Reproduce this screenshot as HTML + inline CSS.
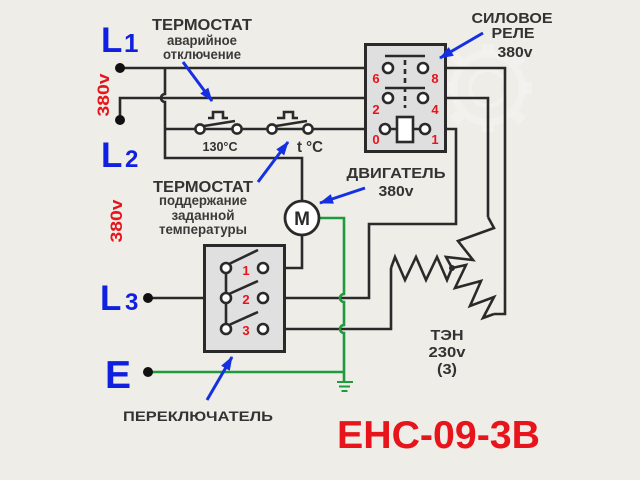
<!DOCTYPE html>
<html><head><meta charset="utf-8"><style>
html,body{margin:0;padding:0;background:#eeede7;}
svg{display:block;}
text{font-family:"Liberation Sans","DejaVu Sans",sans-serif;font-weight:bold;}
</style></head><body>
<svg width="640" height="480" viewBox="0 0 640 480" xmlns="http://www.w3.org/2000/svg">
<defs>
<marker id="ah" viewBox="0 0 14 10" refX="13" refY="5" markerWidth="15" markerHeight="10" orient="auto" markerUnits="userSpaceOnUse"><path d="M0,0 L14,5 L0,10 z" fill="#1530e0"/></marker>
</defs>
<rect width="640" height="480" fill="#eeede7"/>

<!-- watermark gear -->
<g fill="none" stroke="#f4f3ef" stroke-width="7" opacity="0.8">
<circle cx="488" cy="88" r="34"/>
<circle cx="488" cy="88" r="18" stroke-width="4"/>
</g>
<g fill="#f4f3ef" opacity="0.8">
<rect x="482" y="44" width="12" height="10"/><rect x="482" y="122" width="12" height="10"/>
<rect x="444" y="82" width="10" height="12"/><rect x="522" y="82" width="10" height="12"/>
<rect x="452" y="54" width="11" height="10" transform="rotate(45 457 59)"/>
<rect x="513" y="54" width="11" height="10" transform="rotate(45 518 59)"/>
<rect x="452" y="112" width="11" height="10" transform="rotate(45 457 117)"/>
<rect x="513" y="112" width="11" height="10" transform="rotate(45 518 117)"/>
</g>

<!-- black wires -->
<g fill="none" stroke="#2a2a2a" stroke-width="2.6" stroke-linejoin="miter">
<path d="M120,68 H383"/>
<path d="M120,120 V98 H383"/>
<path d="M165,68 V94 A4,4 0 0,0 165,102 V158 H302 V201"/>
<path d="M165,129 H195"/>
<path d="M205,129 H232"/>
<path d="M242,129 H267"/>
<path d="M277,129 H303"/>
<path d="M313,129 H380"/>
<path d="M302,235 V268 H268"/>
<path d="M428,68 H505 V314 H494"/>
<path d="M428,98 H488 V217"/>
<path d="M430,129 H456 V224 H369 V298 H268"/>
<path d="M268,329 H391 V268"/>
<path d="M148,298 H221"/>
<!-- heaters -->
<path d="M391,268 L395,257 L405,280 L416,257 L426,280 L437,257 L447,280 L452,268"/>
<path d="M488,217 L494,228 L458,241 L473,260 L446,257 L452,268"/>
<path d="M452,268 L466,265 L455,288 L481,281 L470,306 L494,297 L483,318 L494,314"/>
<!-- thermostat blades and push buttons -->
<path d="M204,126 L235,121"/>
<path d="M208,118 H213 V112 H223 V118 H228"/>
<path d="M276,126 L307,121"/>
<path d="M277,118 H284 V112 H293 V118 H298"/>
</g>
<circle cx="452" cy="268" r="3" fill="#2a2a2a"/>

<!-- green wires -->
<g fill="none" stroke="#1f9a3c" stroke-width="2.6">
<path d="M319,218 H344 V294 A4,4 0 0,0 344,302 V325 A4,4 0 0,0 344,333 V382"/>
<path d="M148,372 H344"/>
<path d="M337,382 H353 M339,386.5 H350 M341.5,391 H347.5" stroke-width="2"/>
</g>

<!-- thermostat contacts -->
<g fill="#fff" stroke="#2a2a2a" stroke-width="2.6">
<circle cx="200" cy="129" r="4.6"/>
<circle cx="237" cy="129" r="4.6"/>
<circle cx="272" cy="129" r="4.6"/>
<circle cx="308" cy="129" r="4.6"/>
</g>

<!-- terminals -->
<g fill="#111">
<circle cx="120" cy="68" r="5"/>
<circle cx="120" cy="120" r="5"/>
<circle cx="148" cy="298" r="5"/>
<circle cx="148" cy="372" r="5"/>
</g>

<!-- relay -->
<rect x="365.5" y="44.5" width="80" height="107" fill="#dfdfdf" stroke="#2a2a2a" stroke-width="3"/>
<g stroke="#2a2a2a" stroke-width="2.6" fill="none">
<path d="M385,56 H425"/>
<path d="M385,88 H425"/>
<path d="M405,60 V108" stroke-dasharray="5,4"/>
<path d="M390,129 H397 M413,129 H420"/>
</g>
<g fill="#fff" stroke="#2a2a2a" stroke-width="2.6">
<circle cx="388" cy="68" r="5"/>
<circle cx="423" cy="68" r="5"/>
<circle cx="388" cy="98" r="5"/>
<circle cx="423" cy="98" r="5"/>
<circle cx="385" cy="129" r="5"/>
<circle cx="425" cy="129" r="5"/>
<rect x="397" y="117" width="16" height="25"/>
</g>
<g fill="#e8141b" font-size="13" text-anchor="middle">
<text x="376" y="83">6</text>
<text x="435" y="83">8</text>
<text x="376" y="114">2</text>
<text x="435" y="114">4</text>
<text x="376" y="144">0</text>
<text x="435" y="144">1</text>
</g>

<!-- motor -->
<circle cx="302" cy="218" r="17" fill="#fff" stroke="#2a2a2a" stroke-width="2.8"/>
<text x="302" y="225" font-size="19" text-anchor="middle" fill="#2a2a2a">M</text>

<!-- switch -->
<rect x="204.5" y="245.5" width="80" height="106" fill="#e0e0e0" stroke="#2a2a2a" stroke-width="3"/>
<g stroke="#2a2a2a" stroke-width="2.6" fill="none">
<path d="M226,268 V329"/>
<path d="M229,264 L258,250"/>
<path d="M229,294 L258,281"/>
<path d="M229,325 L258,312"/>
</g>
<g fill="#fff" stroke="#2a2a2a" stroke-width="2.6">
<circle cx="226" cy="268" r="5"/>
<circle cx="226" cy="298" r="5"/>
<circle cx="226" cy="329" r="5"/>
<circle cx="263" cy="268" r="5"/>
<circle cx="263" cy="298" r="5"/>
<circle cx="263" cy="329" r="5"/>
</g>
<g fill="#e8141b" font-size="13" text-anchor="middle">
<text x="246" y="275">1</text>
<text x="246" y="304">2</text>
<text x="246" y="335">3</text>
</g>

<!-- arrows -->
<g stroke="#1530e0" stroke-width="3" marker-end="url(#ah)">
<line x1="183" y1="62" x2="212" y2="101"/>
<line x1="258" y1="182" x2="288" y2="142"/>
<line x1="365" y1="188" x2="320" y2="203"/>
<line x1="483" y1="33" x2="440" y2="58"/>
<line x1="207" y1="400" x2="232" y2="357"/>
</g>

<!-- L labels -->
<g fill="#1020e0">
<text x="101" y="52" font-size="35">L</text>
<text x="124" y="52" font-size="26">1</text>
<text x="101" y="167" font-size="35">L</text>
<text x="125" y="167" font-size="24">2</text>
<text x="100" y="310" font-size="35">L</text>
<text x="125" y="310" font-size="24">3</text>
<text x="105" y="388" font-size="39">E</text>
</g>

<!-- red voltage labels -->
<g fill="#e8141b" font-size="17" text-anchor="middle">
<text transform="translate(109,95) rotate(-90)" textLength="43" lengthAdjust="spacingAndGlyphs">380v</text>
<text transform="translate(122,221) rotate(-90)" textLength="43" lengthAdjust="spacingAndGlyphs">380v</text>
</g>
<text x="337" y="448" font-size="39" fill="#e8141b" textLength="203" lengthAdjust="spacingAndGlyphs">ЕНС-09-3В</text>

<!-- gray labels -->
<g fill="#333" text-anchor="middle">
<text x="202" y="30" font-size="16" textLength="100" lengthAdjust="spacingAndGlyphs">ТЕРМОСТАТ</text>
<text x="202" y="45" font-size="14" fill="#3a3a3a" textLength="70" lengthAdjust="spacingAndGlyphs">аварийное</text>
<text x="202" y="59" font-size="14" fill="#3a3a3a" textLength="78" lengthAdjust="spacingAndGlyphs">отключение</text>
<text x="220" y="151" font-size="13" textLength="35" lengthAdjust="spacingAndGlyphs">130°C</text>
<text x="310" y="152" font-size="16" textLength="26" lengthAdjust="spacingAndGlyphs">t °C</text>

<text x="512" y="23" font-size="15" textLength="81" lengthAdjust="spacingAndGlyphs">СИЛОВОЕ</text>
<text x="513" y="38" font-size="15" textLength="43" lengthAdjust="spacingAndGlyphs">РЕЛЕ</text>
<text x="515" y="57" font-size="15" textLength="35" lengthAdjust="spacingAndGlyphs">380v</text>

<text x="396" y="178" font-size="15" textLength="99" lengthAdjust="spacingAndGlyphs">ДВИГАТЕЛЬ</text>
<text x="396" y="196" font-size="15" textLength="35" lengthAdjust="spacingAndGlyphs">380v</text>

<text x="203" y="192" font-size="16" textLength="100" lengthAdjust="spacingAndGlyphs">ТЕРМОСТАТ</text>
<text x="203" y="205" font-size="14" fill="#3a3a3a" textLength="88" lengthAdjust="spacingAndGlyphs">поддержание</text>
<text x="203" y="220" font-size="14" fill="#3a3a3a" textLength="63" lengthAdjust="spacingAndGlyphs">заданной</text>
<text x="203" y="234" font-size="14" fill="#3a3a3a" textLength="88" lengthAdjust="spacingAndGlyphs">температуры</text>

<text x="447" y="340" font-size="15" textLength="33" lengthAdjust="spacingAndGlyphs">ТЭН</text>
<text x="447" y="357" font-size="15" textLength="37" lengthAdjust="spacingAndGlyphs">230v</text>
<text x="447" y="374" font-size="15" textLength="20" lengthAdjust="spacingAndGlyphs">(3)</text>

<text x="198" y="421" font-size="14" textLength="150" lengthAdjust="spacingAndGlyphs">ПЕРЕКЛЮЧАТЕЛЬ</text>
</g>
</svg>
</body></html>
